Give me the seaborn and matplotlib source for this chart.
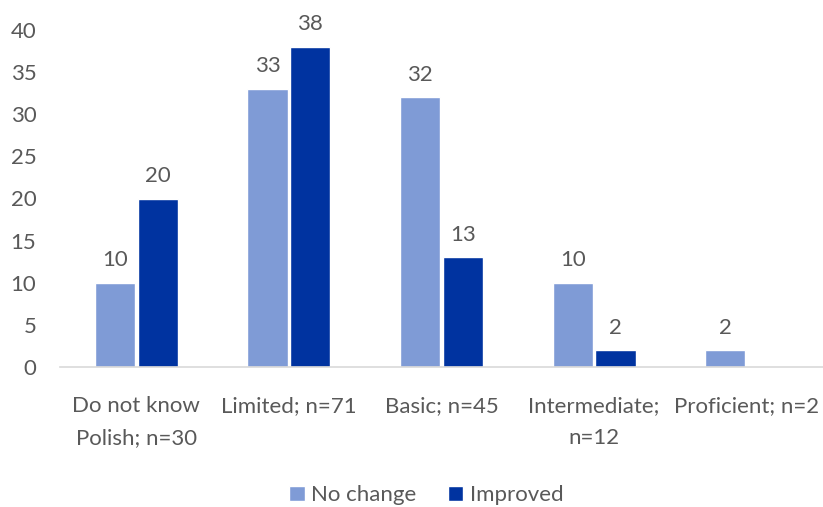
import matplotlib
matplotlib.use("Agg")
import matplotlib.pyplot as plt
import seaborn as sns
import pandas as pd

categories = ["Do not know\nPolish; n=30", "Limited; n=71", "Basic; n=45",
              "Intermediate;\nn=12", "Proficient; n=2"]
no_change = [10, 33, 32, 10, 2]
improved = [20, 38, 13, 2, 0]
series = ["No change", "Improved"]
colors = ["#7F9BD6", "#0033A0"]
text_color = "#595959"

df = pd.DataFrame({
    "category": categories * 2,
    "value": no_change + improved,
    "series": [series[0]] * len(categories) + [series[1]] * len(categories),
})

sns.set_theme(style="white")
plt.rcParams["font.family"] = ["Lato", "DejaVu Sans"]

fig = plt.figure(figsize=(8.23, 5.07), dpi=100)
ax = fig.add_axes([60 / 823, 140 / 507, 763 / 823, 337 / 507])

sns.barplot(data=df, x="category", y="value", hue="series", hue_order=series,
            palette=colors, width=0.56, gap=0.06, saturation=1, ax=ax,
            legend=True)

for container in ax.containers:
    labels = [f"{v:g}" if v > 0 else "" for v in container.datavalues]
    ax.bar_label(container, labels=labels, padding=9, fontsize=16,
                 color=text_color)

ax.set_ylim(0, 40)
ax.set_yticks(range(0, 41, 5))
ax.set_xlim(-0.5, len(categories) - 0.5)
ax.set_xlabel("")
ax.set_ylabel("")
for side in ["top", "right", "left"]:
    ax.spines[side].set_visible(False)
ax.spines["bottom"].set_color("#D9D9D9")
ax.spines["bottom"].set_linewidth(1.2)
ax.tick_params(axis="both", length=0, labelsize=16, labelcolor=text_color)
ax.tick_params(axis="x", pad=21)
ax.tick_params(axis="y", pad=17)
for lbl in ax.get_xticklabels():
    lbl.set_linespacing(1.75)

ax.legend(loc="lower center", bbox_to_anchor=(0.48, -0.47), ncol=2,
          frameon=False, fontsize=16, labelcolor=text_color,
          handlelength=0.7, handleheight=0.7, handletextpad=0.3,
          columnspacing=1.4)

fig.savefig("out.png", dpi=100)
